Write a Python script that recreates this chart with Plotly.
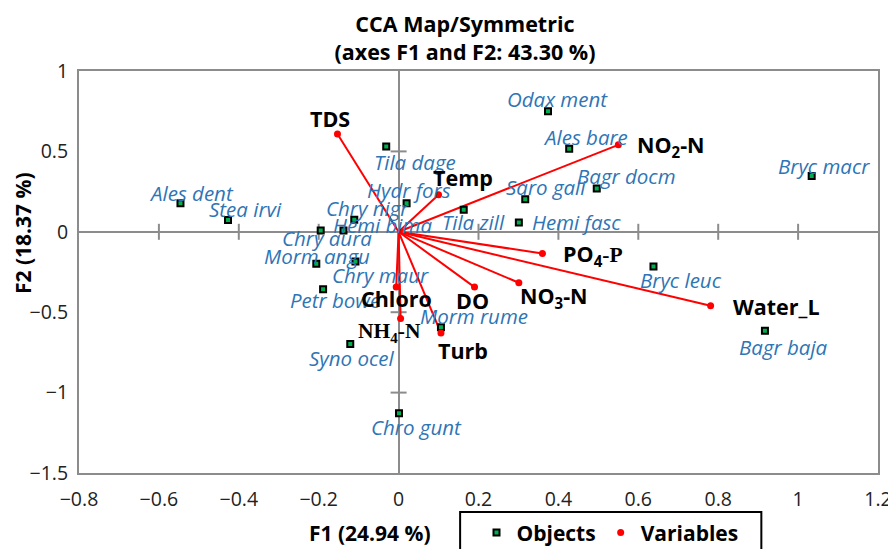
import plotly.graph_objects as go

# ---------------- data ----------------
obj_names = ["Ales dent", "Stea irvi", "Chry aura", "Hemi bima", "Chry nigr", "Tila dage",
             "Hydr fors", "Morm angu", "Chry maur", "Petr bowe", "Morm rume", "Syno ocel",
             "Chro gunt", "Odax ment", "Ales bare", "Bagr docm", "Saro gali", "Tila zill",
             "Hemi fasc", "Bryc macr", "Bryc leuc", "Bagr baja"]
obj_f1 = [-0.546, -0.427, -0.195, -0.138, -0.111, -0.031,
          0.020, -0.206, -0.108, -0.189, 0.106, -0.121,
          0.001, 0.374, 0.427, 0.496, 0.317, 0.163,
          0.301, 1.034, 0.638, 0.917]
obj_f2 = [0.178, 0.073, 0.008, 0.008, 0.075, 0.531,
          0.178, -0.199, -0.185, -0.357, -0.593, -0.697,
          -1.128, 0.749, 0.516, 0.270, 0.203, 0.137,
          0.058, 0.347, -0.216, -0.616]

var_names = ["TDS", "Temp", "NO2-N", "PO4-P", "DO", "NO3-N", "Water_L", "Chloro", "NH4-N", "Turb"]
var_f1 = [-0.153, 0.100, 0.550, 0.360, 0.190, 0.301, 0.781, -0.006, 0.005, 0.106]
var_f2 = [0.608, 0.230, 0.541, -0.135, -0.344, -0.317, -0.460, -0.344, -0.539, -0.630]

x_ticks = [-0.8, -0.6, -0.4, -0.2, 0, 0.2, 0.4, 0.6, 0.8, 1, 1.2]
y_ticks = [-1.5, -1, -0.5, 0, 0.5, 1]

# ---------------- styling (label placement offsets in pixels) ----------------
SERIF = "Liberation Serif"
var_labels = {
    "TDS": "TDS",
    "Temp": "Temp",
    "NO2-N": "NO<sub>2</sub>-N",
    "PO4-P": "PO<sub>4</sub><span style='font-family:" + SERIF + "'>-P</span>",
    "DO": "DO",
    "NO3-N": "NO<sub>3</sub>-N",
    "Water_L": "Water_L",
    "Chloro": "Chloro",
    "NH4-N": "<span style='font-family:" + SERIF + "'>NH<sub>4</sub>-N</span>",
    "Turb": "Turb",
}
obj_shift = {
    "Ales dent": (11, 10), "Stea irvi": (17, 11), "Chry aura": (6, -7), "Hemi bima": (39, 6),
    "Chry nigr": (13, 12), "Tila dage": (29, -16), "Hydr fors": (2, 13), "Morm angu": (1, 8),
    "Chry maur": (25, -13), "Petr bowe": (12, -11), "Morm rume": (33, 11), "Syno ocel": (1, -14),
    "Chro gunt": (17, -14), "Odax ment": (9, 12), "Ales bare": (16, 12), "Bagr docm": (30, 12),
    "Saro gali": (21, 12), "Tila zill": (10, -12), "Hemi fasc": (58, 0), "Bryc macr": (12, 10),
    "Bryc leuc": (28, -13), "Bagr baja": (19, -16),
}
var_shift = {
    "TDS": (-7, 16), "Temp": (24, 17), "NO2-N": (53, -1), "PO4-P": (51, -1), "DO": (-2, -13),
    "NO3-N": (35, -14), "Water_L": (66, -1), "Chloro": (0, -11), "NH4-N": (-11, -14), "Turb": (22, -17),
}

FONT = "Open Sans"
BLUE = "#2E75B6"
RED = "#FF0000"
GRAY = "#8C8C8C"

fig = go.Figure()

# variable vectors
lx, ly = [], []
for vx, vy in zip(var_f1, var_f2):
    lx += [0, vx, None]
    ly += [0, vy, None]
fig.add_trace(go.Scatter(x=lx, y=ly, mode="lines", line=dict(color=RED, width=2),
                         showlegend=False, hoverinfo="skip"))

fig.add_trace(go.Scatter(x=obj_f1, y=obj_f2, mode="markers", name="<b>Objects</b>", text=obj_names,
                         marker=dict(symbol="square", size=6, color="#00B050",
                                     line=dict(color="black", width=2))))
fig.add_trace(go.Scatter(x=var_f1, y=var_f2, mode="markers", name="<b>Variables</b>", text=var_names,
                         marker=dict(symbol="circle", size=7, color=RED)))

# labels
for n, x, y in zip(obj_names, obj_f1, obj_f2):
    dx, dy = obj_shift[n]
    fig.add_annotation(x=x, y=y, xref="x", yref="y", text="<i>" + n + "</i>", showarrow=False,
                       xshift=dx, yshift=dy, font=dict(family=FONT, size=20.5, color=BLUE))
for n, x, y in zip(var_names, var_f1, var_f2):
    dx, dy = var_shift[n]
    fig.add_annotation(x=x, y=y, xref="x", yref="y", text="<b>" + var_labels[n] + "</b>",
                       showarrow=False, xshift=dx, yshift=dy,
                       font=dict(family=FONT, size=21.5, color="black"))

# tick marks across the zero lines
for v in x_ticks:
    if v in (0, x_ticks[0], x_ticks[-1]):
        continue
    fig.add_shape(type="line", xref="x", yref="y", x0=v, x1=v, ysizemode="pixel", yanchor=0,
                  y0=-8, y1=8, line=dict(color=GRAY, width=2), layer="below")
for v in y_ticks:
    if v in (0, y_ticks[0], y_ticks[-1]):
        continue
    fig.add_shape(type="line", xref="x", yref="y", y0=v, y1=v, xsizemode="pixel", xanchor=0,
                  x0=-8, x1=8, line=dict(color=GRAY, width=2), layer="below")

# legend frame
fig.add_shape(type="rect", xref="paper", yref="paper", x0=0.477, x1=0.854, y0=-0.097, y1=-0.25,
              line=dict(color="black", width=2), fillcolor="rgba(0,0,0,0)")

# axis titles
fig.add_annotation(xref="paper", yref="paper", x=0.364, y=-0.149, xanchor="center", yanchor="middle",
                   text="<b>F1 (24.94 %)</b>",
                   showarrow=False, font=dict(family=FONT, size=21, color="black"))
fig.add_annotation(xref="paper", yref="paper", x=-0.070, y=0.597, xanchor="center", yanchor="middle",
                   text="<b>F2 (18.37 %)</b>",
                   showarrow=False, textangle=-90, font=dict(family=FONT, size=21, color="black"))

axis_common = dict(showgrid=False, showline=True, mirror=True, linecolor=GRAY, linewidth=2,
                   zeroline=True, zerolinecolor=GRAY, zerolinewidth=2, ticks="",
                   tickfont=dict(family=FONT, size=19.5, color="#222"))
fig.update_xaxes(range=[-0.8, 1.2], tickvals=x_ticks, ticklabelstandoff=8, **axis_common)
fig.update_yaxes(range=[-1.5, 1], tickvals=y_ticks, ticklabelstandoff=5, **axis_common)

fig.update_layout(
    width=888, height=541,
    margin=dict(l=71, r=18, t=63, b=76, autoexpand=False),
    paper_bgcolor="white", plot_bgcolor="white",
    title=dict(text="<b>CCA Map/Symmetric<br>(axes F1 and F2: 43.30 %)</b>", xref="container",
               x=0.5146, xanchor="center", yref="container", y=0.956, yanchor="middle",
               font=dict(family=FONT, size=21.5, color="black")),
    legend=dict(orientation="h", x=0.4975, y=-0.149, xanchor="left", yanchor="middle",
                font=dict(family=FONT, size=21, color="black"), bgcolor="rgba(0,0,0,0)",
                itemwidth=30),
    font=dict(family=FONT),
    showlegend=True,
)

fig.write_html("out.html")
